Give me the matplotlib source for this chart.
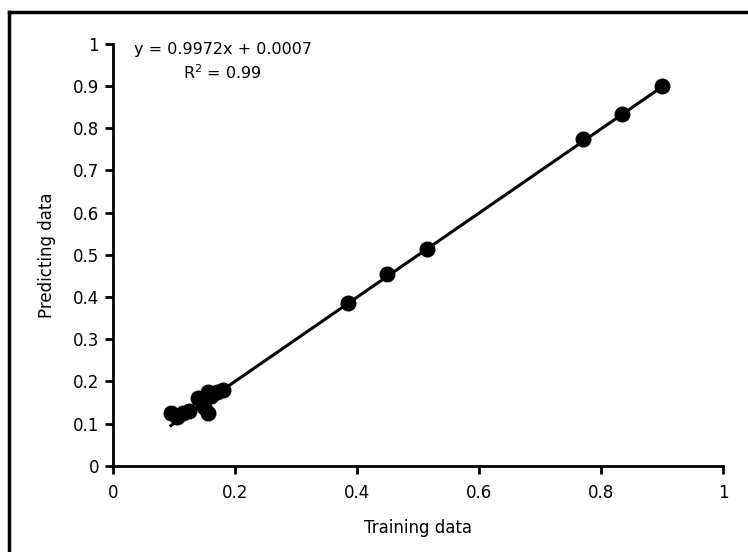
import matplotlib
matplotlib.use("Agg")
import matplotlib.pyplot as plt
import numpy as np
from matplotlib.lines import Line2D

plt.rcParams['font.family'] = ['DejaVu Sans']

training = [0.095, 0.105, 0.115, 0.125, 0.14, 0.15, 0.155, 0.155, 0.16, 0.17, 0.18,
            0.385, 0.45, 0.515, 0.77, 0.835, 0.90]
predicting = [0.125, 0.115, 0.125, 0.13, 0.16, 0.14, 0.125, 0.175, 0.165, 0.175, 0.18,
              0.385, 0.455, 0.515, 0.775, 0.835, 0.90]
slope = 0.9972
intercept = 0.0007
eq_text = "y = 0.9972x + 0.0007"
r2_text = "R$^{2}$ = 0.99"

fig = plt.figure(figsize=(7.48, 5.52), dpi=100)
ax = fig.add_axes([0.151, 0.156, 0.8156, 0.7645])

xs = np.array([min(training), max(training)])
ax.plot(xs, slope * xs + intercept, color='black', lw=2.2, zorder=2)
ax.scatter(training, predicting, s=110, color='black', zorder=3)

ax.set_xlim(0, 1)
ax.set_ylim(0, 1)
ax.set_xticks(np.arange(0, 1.01, 0.2))
ax.set_xticklabels(['0', '0.2', '0.4', '0.6', '0.8', '1'])
ax.set_yticks(np.arange(0, 1.01, 0.1))
ax.set_yticklabels(['0', '0.1', '0.2', '0.3', '0.4', '0.5', '0.6', '0.7', '0.8', '0.9', '1'])
for s in ['top', 'right']:
    ax.spines[s].set_visible(False)
for s in ['left', 'bottom']:
    ax.spines[s].set_linewidth(2)
ax.tick_params(axis='both', direction='out', length=6, width=2, labelsize=12)
ax.tick_params(axis='x', pad=7)
ax.tick_params(axis='y', pad=4)
ax.set_xlabel('Training data', fontsize=12, labelpad=12)
ax.set_ylabel('Predicting data', fontsize=12, labelpad=12)

ax.text(0.18, 0.986, eq_text, fontsize=11.5, ha='center', va='center')
ax.text(0.18, 0.931, r2_text, fontsize=11.5, ha='center', va='center')

fig.add_artist(Line2D([0.0127, 1.0], [0.978, 0.978], transform=fig.transFigure, color='black', lw=2.5))
fig.add_artist(Line2D([0.0127, 0.0127], [0.0, 0.978], transform=fig.transFigure, color='black', lw=2.5))

fig.savefig('out.png', dpi=100)
